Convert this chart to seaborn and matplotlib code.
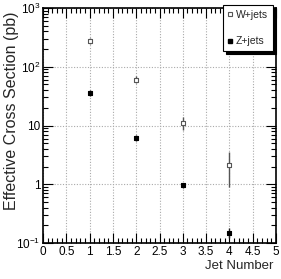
import numpy as np
import pandas as pd
import matplotlib
matplotlib.use("Agg")
import matplotlib.pyplot as plt
import seaborn as sns
from matplotlib.ticker import MultipleLocator, LogLocator, NullFormatter, FixedLocator, FixedFormatter
from matplotlib.lines import Line2D

jets = [1, 2, 3, 4]
w_vals = [270, 60, 11.2, 2.1]
w_lo = [30, 8, 2.9, 1.2]
w_hi = [35, 9, 3.0, 1.4]
z_vals = [36, 6.2, 0.97, 0.15]
z_lo = [4, 0.8, 0.1, 0.03]
z_hi = [4, 0.8, 0.1, 0.03]
series = ["W+jets", "Z+jets"]
y_ticks = [0.1, 1, 10, 100, 1000]
y_ticklabels = [r"$10^{-1}$", "1", "10", r"$10^{2}$", r"$10^{3}$"]
x_ticks = [0, 0.5, 1, 1.5, 2, 2.5, 3, 3.5, 4, 4.5, 5]
x_ticklabels = ["0", "0.5", "1", "1.5", "2", "2.5", "3", "3.5", "4", "4.5", "5"]

df = pd.DataFrame({
    "jets": jets * 2,
    "xs": w_vals + z_vals,
    "series": [series[0]] * 4 + [series[1]] * 4,
})

sns.set_style("ticks")
plt.rcParams["font.family"] = ["Liberation Sans", "DejaVu Sans"]
plt.rcParams["mathtext.fontset"] = "custom"
plt.rcParams["mathtext.rm"] = "Liberation Sans"
plt.rcParams["mathtext.it"] = "Liberation Sans"

fig = plt.figure(figsize=(2.81, 2.79), dpi=100)
ax = fig.add_axes([43 / 281, 1 - 243 / 279, 233 / 281, 235 / 279])

ax.errorbar(jets, w_vals, yerr=[w_lo, w_hi], fmt="none", ecolor="#555555", elinewidth=1.0, capsize=0, zorder=2)
ax.errorbar(jets, z_vals, yerr=[z_lo, z_hi], fmt="none", ecolor="#222222", elinewidth=1.0, capsize=0, zorder=2)

sns.scatterplot(data=df, x="jets", y="xs", hue="series", style="series",
                markers={"W+jets": "s", "Z+jets": "s"},
                palette={"W+jets": "white", "Z+jets": "black"},
                s=8, linewidth=0.8, edgecolor=["#555555"] * 4 + ["black"] * 4,
                ax=ax, zorder=3, legend=False)

ax.set_yscale("log")
ax.set_xlim(0, 5)
ax.set_ylim(0.1, 1000)

ax.xaxis.set_major_locator(FixedLocator(x_ticks))
ax.xaxis.set_major_formatter(FixedFormatter(x_ticklabels))
ax.xaxis.set_minor_locator(MultipleLocator(0.1))
ax.yaxis.set_major_locator(FixedLocator(y_ticks))
ax.yaxis.set_major_formatter(FixedFormatter(y_ticklabels))
ax.yaxis.set_minor_locator(LogLocator(base=10, subs=np.arange(2, 10)))
ax.yaxis.set_minor_formatter(NullFormatter())

ax.tick_params(which="both", direction="in", top=True, right=True, colors="black", labelsize=8.5, pad=2)
ax.tick_params(which="major", length=7, width=0.8)
ax.tick_params(which="minor", length=3.5, width=0.8)

ax.grid(True, which="major", linestyle=(0, (1, 1.5)), color="#aaaaaa", linewidth=0.8)
ax.set_axisbelow(True)
for sp in ax.spines.values():
    sp.set_visible(True)
    sp.set_color("black")
    sp.set_linewidth(1.2)

ax.set_xlabel("")
ax.set_ylabel("")
fig.text(12 / 281, 1 - 12 / 279, "Effective Cross Section (pb)", rotation=90,
         ha="center", va="top", fontsize=11.5)
fig.text(273 / 281, 1 - 266 / 279, "Jet Number", ha="right", va="center", fontsize=9.5)

handles = [
    Line2D([], [], marker="s", linestyle="none", markerfacecolor="white", markeredgecolor="#555555", markersize=3, markeredgewidth=0.8),
    Line2D([], [], marker="s", linestyle="none", markerfacecolor="black", markeredgecolor="black", markersize=3),
]
leg = fig.legend(handles, series, loc="upper left", bbox_to_anchor=(223 / 281, 1 - 5 / 279),
                 frameon=True, fancybox=False, shadow={"color": "black", "alpha": 1.0},
                 fontsize=7.5, handlelength=0.5, handletextpad=0.3, borderpad=0.45, labelspacing=1.6,
                 borderaxespad=0, framealpha=1)
leg.get_frame().set_edgecolor("black")
leg.get_frame().set_linewidth(0.8)

fig.savefig("out.png", dpi=100)
